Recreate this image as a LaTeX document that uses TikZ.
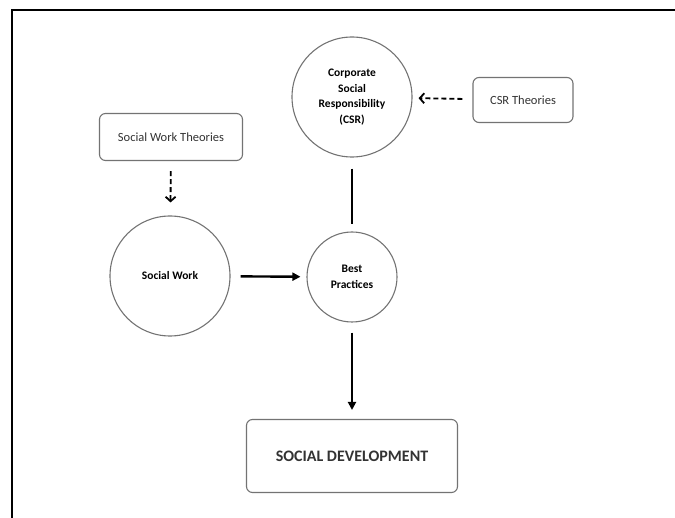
\documentclass[tikz,border=0pt]{standalone}
\usepackage{fontspec}
\setmainfont{Carlito}
\usetikzlibrary{arrows.meta}

\begin{document}
\begin{tikzpicture}[x=1pt,y=-1pt,
  rond/.style={circle,draw=gray!90!black,line width=1.1pt,align=center,font=\bfseries\fontsize{11.5}{15.5}\selectfont},
  boite/.style={rounded corners=6pt,draw=gray!90!black,line width=1.1pt,align=center,text=black!80},
  fleche/.style={line width=2.4pt,-{Triangle[length=8pt,width=8pt]}},
  pointille/.style={line width=1.8pt,dash pattern=on 5pt off 3pt,-{Straight Barb[length=4.5pt,width=10pt,line width=1.8pt]}}]
  \useasboundingbox (0,0) rectangle (675,518);
  % cadre
  \draw[line width=1.2pt] (12,518) -- (12,10) -- (675,10);
  % cercles
  \node[rond,minimum size=120pt] (csr) at (352,97) {Corporate\\Social\\Responsibility\\(CSR)};
  \node[rond,minimum size=120pt] (sw) at (170,276) {Social Work};
  \node[rond,minimum size=90pt] (bp) at (352,277) {Best\\Practices};
  % theories
  \node[boite,minimum width=100pt,minimum height=45pt,font=\fontsize{12.5}{15}\selectfont] (csrt) at (523,100) {CSR Theories};
  \node[boite,minimum width=143pt,minimum height=47pt,font=\fontsize{12.5}{15}\selectfont] (swt) at (171,137) {Social Work Theories};
  % developpement
  \node[boite,minimum width=211pt,minimum height=73pt,font=\bfseries\fontsize{16}{19}\selectfont] (sd) at (352,456) {SOCIAL DEVELOPMENT};
  % liens
  \draw[pointille,shorten <=10pt,shorten >=6pt] (csrt) -- (csr);
  \draw[pointille,shorten <=10pt,shorten >=13pt] (swt) -- (sw);
  \draw[fleche,shorten <=10pt,shorten >=6pt] (sw) -- (bp);
  \draw[line width=2.4pt,shorten <=11pt,shorten >=7pt] (csr) -- (bp);
  \draw[fleche,shorten <=10pt,shorten >=9pt] (bp) -- (sd);
\end{tikzpicture}
\end{document}
